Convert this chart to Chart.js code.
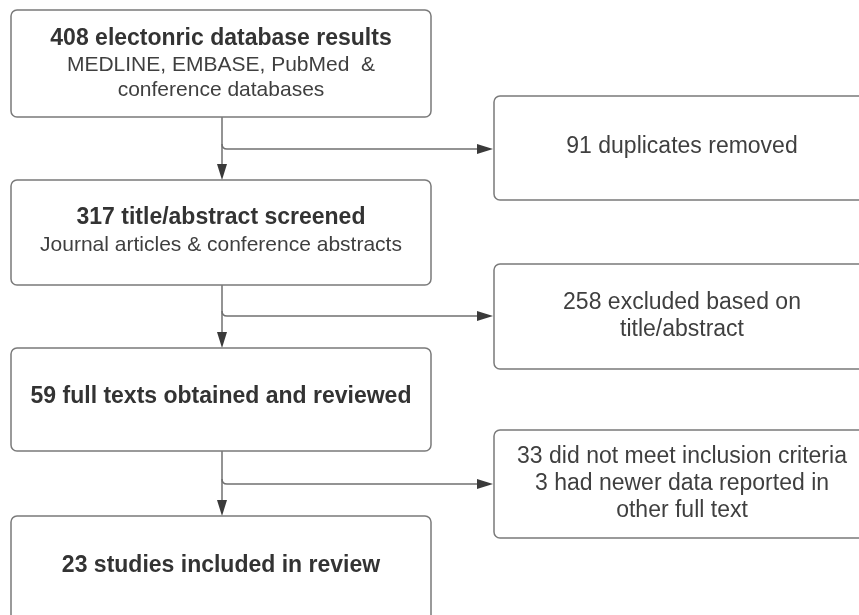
<!DOCTYPE html>
<html>
<head>
<meta charset="utf-8">
<script src="https://cdn.jsdelivr.net/npm/chart.js@4.4.1/dist/chart.umd.min.js"></script>
<style>
  html, body { margin: 0; padding: 0; background: #fff; }
  #wrap { width: 859px; height: 615px; }
</style>
</head>
<body>
<div id="wrap"><canvas id="flow" width="859" height="615"></canvas></div>
<script>
// data: counts at each stage and what was removed
const stageCounts = [408, 317, 59, 23];
const stageTitles = [
  "electonric database results",
  "title/abstract screened",
  "full texts obtained and reviewed",
  "studies included in review"
];
const stageNotes = [
  ["MEDLINE, EMBASE, PubMed  &", "conference databases"],
  ["Journal articles & conference abstracts"],
  [],
  []
];
const removedLines = [
  ["91 duplicates removed"],
  ["258 excluded based on", "title/abstract"],
  ["33 did not meet inclusion criteria", "3 had newer data reported in", "other full text"]
];

// layout (in chart units, 1 unit = 1px)
const mainX = [11, 431];
const mainTop = [10, 180, 348, 516];
const mainBottom = [117, 285, 451, 630];
const titleBase = [45, 224, 403, 572];
const noteBase = [71, 251];
const noteGap = 25;
const sideX = [494, 872];
const sideTop = [96, 264, 430];
const sideBottom = [200, 369, 538];
const sideBase = [153, 309, 463];
const sideGap = 27;
const stemX = 222;
const branchY = [149, 316, 484];

function roundRect(ctx, x0, y0, x1, y1, r) {
  ctx.beginPath();
  ctx.moveTo(x0 + r, y0);
  ctx.arcTo(x1, y0, x1, y1, r);
  ctx.arcTo(x1, y1, x0, y1, r);
  ctx.arcTo(x0, y1, x0, y0, r);
  ctx.arcTo(x0, y0, x1, y0, r);
  ctx.closePath();
}

const flowPlugin = {
  id: "flow",
  afterDraw(chart) {
    const ctx = chart.ctx;
    const sx = v => chart.scales.x.getPixelForValue(v);
    const sy = v => chart.scales.y.getPixelForValue(v);
    ctx.save();

    // connectors
    ctx.strokeStyle = "#707070";
    ctx.fillStyle = "#3a3a3a";
    ctx.lineWidth = 1.5;
    for (let i = 0; i < stageCounts.length - 1; i++) {
      const x = sx(stemX);
      const yTop = sy(mainBottom[i]);
      const yTip = sy(mainTop[i + 1]);
      ctx.beginPath();
      ctx.moveTo(x, yTop);
      ctx.lineTo(x, yTip - 15);
      ctx.stroke();
      ctx.beginPath();
      ctx.moveTo(x - 5, yTip - 16);
      ctx.lineTo(x + 5, yTip - 16);
      ctx.lineTo(x, yTip);
      ctx.closePath();
      ctx.fill();

      // branch to the right
      const by = sy(branchY[i]);
      const tip = sx(sideX[0]) - 1;
      ctx.beginPath();
      ctx.moveTo(x, by - 5);
      ctx.quadraticCurveTo(x, by, x + 5, by);
      ctx.lineTo(tip - 15, by);
      ctx.stroke();
      ctx.beginPath();
      ctx.moveTo(tip - 16, by - 5);
      ctx.lineTo(tip - 16, by + 5);
      ctx.lineTo(tip, by);
      ctx.closePath();
      ctx.fill();
    }

    // main boxes
    ctx.textAlign = "center";
    ctx.textBaseline = "alphabetic";
    const cx = sx((mainX[0] + mainX[1]) / 2);
    stageCounts.forEach((n, i) => {
      roundRect(ctx, sx(mainX[0]), sy(mainTop[i]), sx(mainX[1]), sy(mainBottom[i]), 6);
      ctx.fillStyle = "#ffffff";
      ctx.fill();
      ctx.strokeStyle = "#7a7a7a";
      ctx.lineWidth = 1.5;
      ctx.stroke();
      ctx.fillStyle = "#333333";
      ctx.font = "bold 23px 'Liberation Sans', Arial, sans-serif";
      ctx.fillText(n + " " + stageTitles[i], cx, sy(titleBase[i]));
      ctx.fillStyle = "#3f3f3f";
      ctx.font = "21px 'Liberation Sans', Arial, sans-serif";
      stageNotes[i].forEach((t, k) => {
        ctx.fillText(t, cx, sy(noteBase[i] + k * noteGap));
      });
    });

    // side boxes
    const scx = sx(682);
    removedLines.forEach((lines, i) => {
      roundRect(ctx, sx(sideX[0]), sy(sideTop[i]), sx(sideX[1]), sy(sideBottom[i]), 6);
      ctx.fillStyle = "#ffffff";
      ctx.fill();
      ctx.strokeStyle = "#7a7a7a";
      ctx.lineWidth = 1.5;
      ctx.stroke();
      ctx.fillStyle = "#3f3f3f";
      ctx.font = "23px 'Liberation Sans', Arial, sans-serif";
      lines.forEach((t, k) => {
        ctx.fillText(t, scx, sy(sideBase[i] + k * sideGap));
      });
    });

    ctx.restore();
  }
};

new Chart(document.getElementById("flow"), {
  type: "scatter",
  data: { datasets: [{ data: [], pointRadius: 0 }] },
  options: {
    responsive: false,
    animation: false,
    devicePixelRatio: 1,
    layout: { padding: 0 },
    plugins: { legend: { display: false }, tooltip: { enabled: false } },
    scales: {
      x: { type: "linear", min: 0, max: 859, display: false },
      y: { type: "linear", min: 0, max: 615, reverse: true, display: false }
    }
  },
  plugins: [flowPlugin]
});
</script>
</body>
</html>
